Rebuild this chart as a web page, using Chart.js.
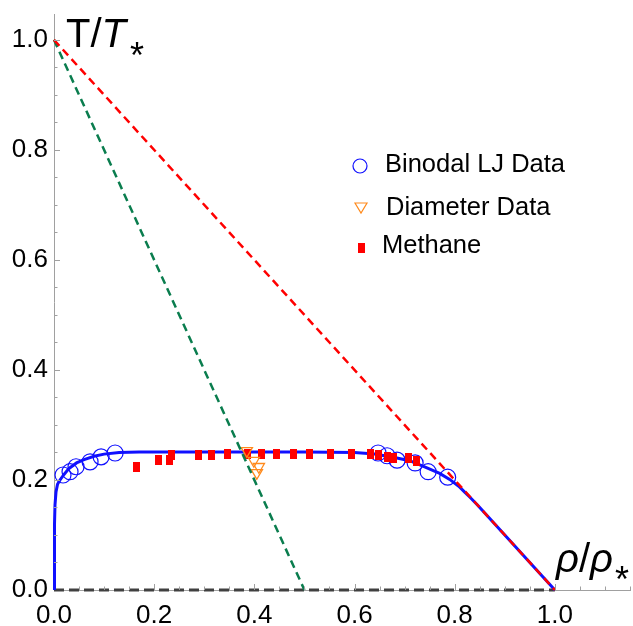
<!DOCTYPE html>
<html>
<head>
<meta charset="utf-8">
<script src="https://cdn.jsdelivr.net/npm/chart.js@4.4.1/dist/chart.umd.min.js"></script>
<style>
  html, body { margin: 0; padding: 0; background: #fff; }
  #wrap { width: 633px; height: 626px; }
</style>
</head>
<body>
<div id="wrap"><canvas id="grafico" width="633" height="626"></canvas></div>
<script>
// --- datos ---
const curveX = [0.001, 0.001, 0.002, 0.004, 0.007, 0.012, 0.02, 0.03, 0.045, 0.06, 0.08, 0.1, 0.13, 0.17, 0.3, 0.5, 0.6, 0.64, 0.68, 0.71, 0.74, 0.77, 0.79, 0.81, 0.82, 0.83, 0.845, 0.86, 1.0];
const curveY = [0, 0.12, 0.155, 0.178, 0.192, 0.2, 0.21, 0.221, 0.231, 0.237, 0.243, 0.247, 0.25, 0.251, 0.251, 0.251, 0.25, 0.247, 0.241, 0.235, 0.224, 0.212, 0.201, 0.187, 0.178, 0.169, 0.155, 0.14, 0];

const binodalX = [0.018, 0.032, 0.044, 0.072, 0.094, 0.122, 0.647, 0.665, 0.685, 0.721, 0.747, 0.786];
const binodalY = [0.209, 0.215, 0.224, 0.233, 0.242, 0.249, 0.249, 0.244, 0.236, 0.231, 0.215, 0.205];

const diameterX = [0.385, 0.399, 0.409, 0.405];
const diameterY = [0.253, 0.235, 0.224, 0.213];

const methaneX = [0.164, 0.208, 0.230, 0.234, 0.289, 0.315, 0.347, 0.387, 0.415, 0.445, 0.479, 0.511, 0.553, 0.593, 0.631, 0.647, 0.665, 0.677, 0.707, 0.723];
const methaneY = [0.224, 0.236, 0.236, 0.245, 0.245, 0.245, 0.247, 0.247, 0.247, 0.247, 0.247, 0.247, 0.247, 0.247, 0.247, 0.245, 0.242, 0.240, 0.240, 0.235];

const redLineX = [0, 1];
const redLineY = [1, 0];
const greenLineX = [0, 0.5];
const greenLineY = [1, 0];
const baseLineX = [0, 1];
const baseLineY = [0, 0];

const xTicks = [0, 0.2, 0.4, 0.6, 0.8, 1.0];
const yTicks = [0, 0.2, 0.4, 0.6, 0.8, 1.0];
const legendLabels = ['Binodal LJ Data', 'Diameter Data', 'Methane'];

const AZUL = '#1010ff';
const ROJO = '#ff0000';
const NARANJA = '#ff8a1c';
const VERDE = '#0a7d4e';
const FUENTE = '"Liberation Sans", Arial, sans-serif';

function puntos(xs, ys) {
    return xs.map((x, i) => ({ x: x, y: ys[i] }));
}

// marcador rectangular para metano
function marcadorRect(w, h) {
    const c = document.createElement('canvas');
    c.width = w;
    c.height = h;
    const g = c.getContext('2d');
    g.fillStyle = ROJO;
    g.fillRect(0, 0, w, h);
    return c;
}
const rectMetano = marcadorRect(7, 10);

// sin relleno extra: el area la fija layout.padding
function sinPadding(scale) {
    scale.paddingTop = 0;
    scale.paddingBottom = 0;
    scale.paddingLeft = 0;
    scale.paddingRight = 0;
}

// ticks hacia dentro, titulos de ejes y leyenda
const extras = {
    id: 'extras',
    afterDraw(chart) {
        const ctx = chart.ctx;
        const xs = chart.scales.x;
        const ys = chart.scales.y;
        const area = chart.chartArea;
        ctx.save();
        ctx.strokeStyle = '#a0a0a0';
        ctx.lineWidth = 1;
        for (let k = 1; k <= 23; k++) {
            const v = k * 0.05;
            const px = Math.round(xs.getPixelForValue(v)) + 0.5;
            const largo = (k % 4 === 0) ? 6 : 3.5;
            ctx.beginPath();
            ctx.moveTo(px, area.bottom);
            ctx.lineTo(px, area.bottom - largo);
            ctx.stroke();
        }
        for (let k = 1; k <= 20; k++) {
            const v = k * 0.05;
            const py = Math.round(ys.getPixelForValue(v)) + 0.5;
            const largo = (k % 4 === 0) ? 6 : 3.5;
            ctx.beginPath();
            ctx.moveTo(area.left, py);
            ctx.lineTo(area.left + largo, py);
            ctx.stroke();
        }

        // titulos
        ctx.fillStyle = '#000';
        ctx.textBaseline = 'alphabetic';
        ctx.textAlign = 'left';
        ctx.font = '40px ' + FUENTE;
        ctx.fillText('T/', 66, 47);
        let w = ctx.measureText('T/').width;
        ctx.font = 'italic 40px ' + FUENTE;
        ctx.fillText('T', 66 + w, 47);
        w += ctx.measureText('T').width;
        ctx.font = '36px ' + FUENTE;
        ctx.fillText('*', 66 + w + 4, 68);

        ctx.font = 'italic 40px ' + FUENTE;
        ctx.fillText('\u03c1', 556, 572);
        let w2 = ctx.measureText('\u03c1').width;
        ctx.font = '40px ' + FUENTE;
        ctx.fillText('/', 556 + w2, 572);
        w2 += ctx.measureText('/').width;
        ctx.font = 'italic 40px ' + FUENTE;
        ctx.fillText('\u03c1', 556 + w2, 572);
        w2 += ctx.measureText('\u03c1').width;
        ctx.font = '36px ' + FUENTE;
        ctx.fillText('*', 556 + w2 + 2, 592);

        // leyenda
        ctx.font = '25.5px ' + FUENTE;
        ctx.fillText(legendLabels[0], 385, 172);
        ctx.fillText(legendLabels[1], 386, 215);
        ctx.fillText(legendLabels[2], 382, 253);

        ctx.strokeStyle = AZUL;
        ctx.lineWidth = 1.2;
        ctx.beginPath();
        ctx.arc(360, 166, 7, 0, Math.PI * 2);
        ctx.stroke();

        ctx.strokeStyle = NARANJA;
        ctx.beginPath();
        ctx.moveTo(355, 203);
        ctx.lineTo(367, 203);
        ctx.lineTo(361, 213);
        ctx.closePath();
        ctx.stroke();

        ctx.fillStyle = ROJO;
        ctx.fillRect(358, 243, 7, 10);
        ctx.restore();
    }
};

const ctx = document.getElementById('grafico');
new Chart(ctx, {
    type: 'scatter',
    data: {
        datasets: [
            {
                data: puntos(redLineX, redLineY),
                showLine: true,
                borderColor: ROJO,
                borderWidth: 2.5,
                borderDash: [8, 5],
                pointRadius: 0,
                clip: false
            },
            {
                data: puntos(greenLineX, greenLineY),
                showLine: true,
                borderColor: VERDE,
                borderWidth: 2.5,
                borderDash: [8, 5],
                pointRadius: 0,
                clip: false
            },
            {
                data: puntos(diameterX, diameterY),
                pointStyle: 'triangle',
                rotation: 180,
                pointRadius: 6.5,
                borderColor: NARANJA,
                backgroundColor: 'rgba(0,0,0,0)',
                borderWidth: 1.3,
                clip: false
            },
            {
                data: puntos(methaneX, methaneY),
                pointStyle: rectMetano,
                pointRadius: 5,
                clip: false
            },
            {
                data: puntos(binodalX, binodalY),
                pointStyle: 'circle',
                pointRadius: 8,
                borderColor: AZUL,
                backgroundColor: 'rgba(0,0,0,0)',
                borderWidth: 1.2,
                clip: false
            },
            {
                data: puntos(curveX, curveY),
                showLine: true,
                borderColor: AZUL,
                borderWidth: 3,
                pointRadius: 0,
                tension: 0,
                clip: false
            },
            {
                data: puntos(baseLineX, baseLineY),
                showLine: true,
                borderColor: '#404040',
                borderWidth: 3,
                borderDash: [10, 5],
                pointRadius: 0,
                clip: false
            }
        ]
    },
    options: {
        responsive: false,
        animation: false,
        devicePixelRatio: 1,
        layout: { autoPadding: false, padding: { top: 14, right: 3, left: 0, bottom: 0 } },
        plugins: {
            legend: { display: false },
            tooltip: { enabled: false }
        },
        scales: {
            x: {
                type: 'linear',
                min: 0,
                max: 1.15,
                grid: { display: false, drawTicks: false },
                border: { display: true, color: '#a0a0a0', width: 1 },
                afterBuildTicks: (scale) => { scale.ticks = xTicks.map(v => ({ value: v })); },
                afterFit: (scale) => { scale.height = 36; sinPadding(scale); },
                ticks: {
                    padding: 10,
                    color: '#000',
                    font: { family: FUENTE, size: 26 },
                    callback: (v) => v.toFixed(1)
                }
            },
            y: {
                type: 'linear',
                min: 0,
                max: 1.047,
                grid: { display: false, drawTicks: false },
                border: { display: true, color: '#a0a0a0', width: 1 },
                afterBuildTicks: (scale) => { scale.ticks = yTicks.map(v => ({ value: v })); },
                afterFit: (scale) => { scale.width = 54; sinPadding(scale); },
                ticks: {
                    padding: 6,
                    color: '#000',
                    font: { family: FUENTE, size: 26 },
                    callback: (v) => v.toFixed(1)
                }
            }
        }
    },
    plugins: [extras]
});
</script>
</body>
</html>
